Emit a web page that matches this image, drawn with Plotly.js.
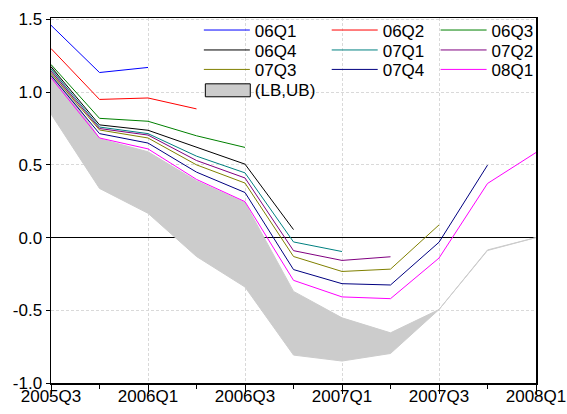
<!DOCTYPE html>
<html>
<head>
<meta charset="utf-8">
<script src="https://cdn.plot.ly/plotly-3.0.1.min.js"></script>
<style>html,body{margin:0;padding:0;background:#fff;}#chart{width:567px;height:414px;}</style>
</head>
<body>
<div id="chart"></div>
<script>
// Quarters on the x axis
var quarters = ['2005Q3','2005Q4','2006Q1','2006Q2','2006Q3','2006Q4','2007Q1','2007Q2','2007Q3','2007Q4','2008Q1'];
var tickLabels = ['2005Q3','2006Q1','2006Q3','2007Q1','2007Q3','2008Q1'];
var yTickVals = [-1.0, -0.5, 0.0, 0.5, 1.0, 1.5];
var yTickText = ['-1.0', '-0.5', '0.0', '0.5', '1.0', '1.5'];

// Forecast vintages
var seriesNames = ['06Q1','06Q2','06Q3','06Q4','07Q1','07Q2','07Q3','07Q4','08Q1'];
var s06Q1 = [1.46, 1.135, 1.17];
var s06Q2 = [1.30, 0.95, 0.96, 0.885];
var s06Q3 = [1.19, 0.82, 0.80, 0.70, 0.62];
var s06Q4 = [1.175, 0.775, 0.738, 0.62, 0.505, 0.055];
var s07Q1 = [1.16, 0.76, 0.715, 0.56, 0.445, -0.03, -0.096];
var s07Q2 = [1.145, 0.75, 0.705, 0.53, 0.41, -0.09, -0.157, -0.132];
var s07Q3 = [1.13, 0.74, 0.685, 0.50, 0.375, -0.13, -0.233, -0.217, 0.087];
var s07Q4 = [1.115, 0.715, 0.65, 0.45, 0.31, -0.22, -0.317, -0.326, -0.032, 0.498];
var s08Q1 = [1.10, 0.685, 0.61, 0.40, 0.247, -0.294, -0.408, -0.42, -0.141, 0.372, 0.585];

// Band (LB, UB)
var bandName = '(LB,UB)';
var LB = [0.85, 0.338, 0.167, -0.13, -0.34, -0.808, -0.849, -0.797, -0.495, -0.089, 0.0];
var UB = [1.19, 0.68, 0.59, 0.39, 0.24, -0.37, -0.552, -0.655, -0.495, -0.085, 0.0];

var seriesValues = [s06Q1, s06Q2, s06Q3, s06Q4, s07Q1, s07Q2, s07Q3, s07Q4, s08Q1];
var colors = ['#0000ff','#ff0000','#008000','#000000','#008080','#800080','#808000','#000080','#ff00ff'];

var xIdx = quarters.map(function(q, i){ return i; });
var bandColor = '#cccccc';
var FONT = 'Liberation Sans, Arial, sans-serif';

// Plot area in pixels (for legend placement)
var W = 567, H = 414;
var M = {l: 51, r: 30.5, t: 17.5, b: 30.5};
var pw = W - M.l - M.r, ph = H - M.t - M.b;
function px(x){ return (x - M.l) / pw; }
function py(y){ return (H - M.b - y) / ph; }

// legend cell positions: columns (left px of legend), rows (center px)
var colX = [199, 327, 436];
var rowY = [30, 50, 69.5, 89.5];

var traces = [];
// band
traces.push({x: xIdx, y: LB, type: 'scatter', mode: 'lines', line: {color: bandColor, width: 1}, showlegend: false, hoverinfo: 'skip'});
traces.push({x: xIdx, y: UB, type: 'scatter', mode: 'lines', fill: 'tonexty', fillcolor: bandColor, line: {color: bandColor, width: 1}, showlegend: false, hoverinfo: 'skip'});

var legends = {};
var legendNames = [];
for (var k = 0; k < 10; k++) legendNames.push(k === 0 ? 'legend' : 'legend' + (k + 1));
function mkLegend(name, col, row){
  legends[name] = {x: px(colX[col]), y: py(rowY[row]), xanchor: 'left', yanchor: 'middle',
    bgcolor: 'rgba(0,0,0,0)', borderwidth: 0, font: {family: FONT, size: 17, color: '#000'},
    itemwidth: 46, tracegroupgap: 0};
}

seriesNames.forEach(function(name, i){
  var vals = seriesValues[i];
  var row = Math.floor(i / 3), col = i % 3;
  var lg = legendNames[i];
  mkLegend(lg, col, row);
  traces.push({x: xIdx.slice(0, vals.length), y: vals, type: 'scatter', mode: 'lines', name: name,
    line: {color: colors[i], width: 1}, legend: lg});
});
// legend-only text entry for the band (its swatch is drawn as a shape)
mkLegend(legendNames[9], 0, 3);
traces.push({x: [null], y: [null], type: 'scatter', mode: 'lines', name: bandName,
  line: {color: 'rgba(0,0,0,0)', width: 0}, legend: legendNames[9]});

var layout = Object.assign({
  width: W, height: H,
  margin: M,
  paper_bgcolor: '#fff', plot_bgcolor: '#fff',
  font: {family: FONT, size: 17, color: '#000'},
  showlegend: true,
  shapes: [{type: 'rect', xref: 'paper', yref: 'paper', layer: 'above',
    x0: px(205.5), x1: px(250.5), y0: py(96.5), y1: py(83.5),
    fillcolor: bandColor, line: {color: '#000', width: 1}}],
  xaxis: {
    range: [0, 10], tickmode: 'array',
    tickvals: tickLabels.map(function(t){ return quarters.indexOf(t); }), ticktext: tickLabels,
    ticks: 'outside', ticklen: 9, tickwidth: 1, tickcolor: '#000', ticklabelstandoff: -12,
    minor: {tickmode: 'linear', tick0: 0, dtick: 1, ticklen: 4, tickcolor: '#000', showgrid: false},
    showgrid: true, gridcolor: '#d9d9d9', griddash: '3px,2px', gridwidth: 1,
    showline: true, linecolor: '#000', linewidth: 1.5, mirror: true,
    zeroline: false, tickfont: {family: FONT, size: 17, color: '#000'}, fixedrange: true
  },
  yaxis: {
    range: [-1.0, 1.51], tickmode: 'array', tickvals: yTickVals, ticktext: yTickText,
    ticks: 'outside', ticklen: 4, tickwidth: 1, tickcolor: '#000',
    showgrid: true, gridcolor: '#d9d9d9', griddash: '3px,2px', gridwidth: 1,
    showline: true, linecolor: '#000', linewidth: 1.5, mirror: true,
    zeroline: true, zerolinecolor: '#000', zerolinewidth: 1.2,
    tickfont: {family: FONT, size: 17, color: '#000'}, fixedrange: true
  }
}, legends);

Plotly.newPlot('chart', traces, layout, {displayModeBar: false, staticPlot: true});
</script>
</body>
</html>
